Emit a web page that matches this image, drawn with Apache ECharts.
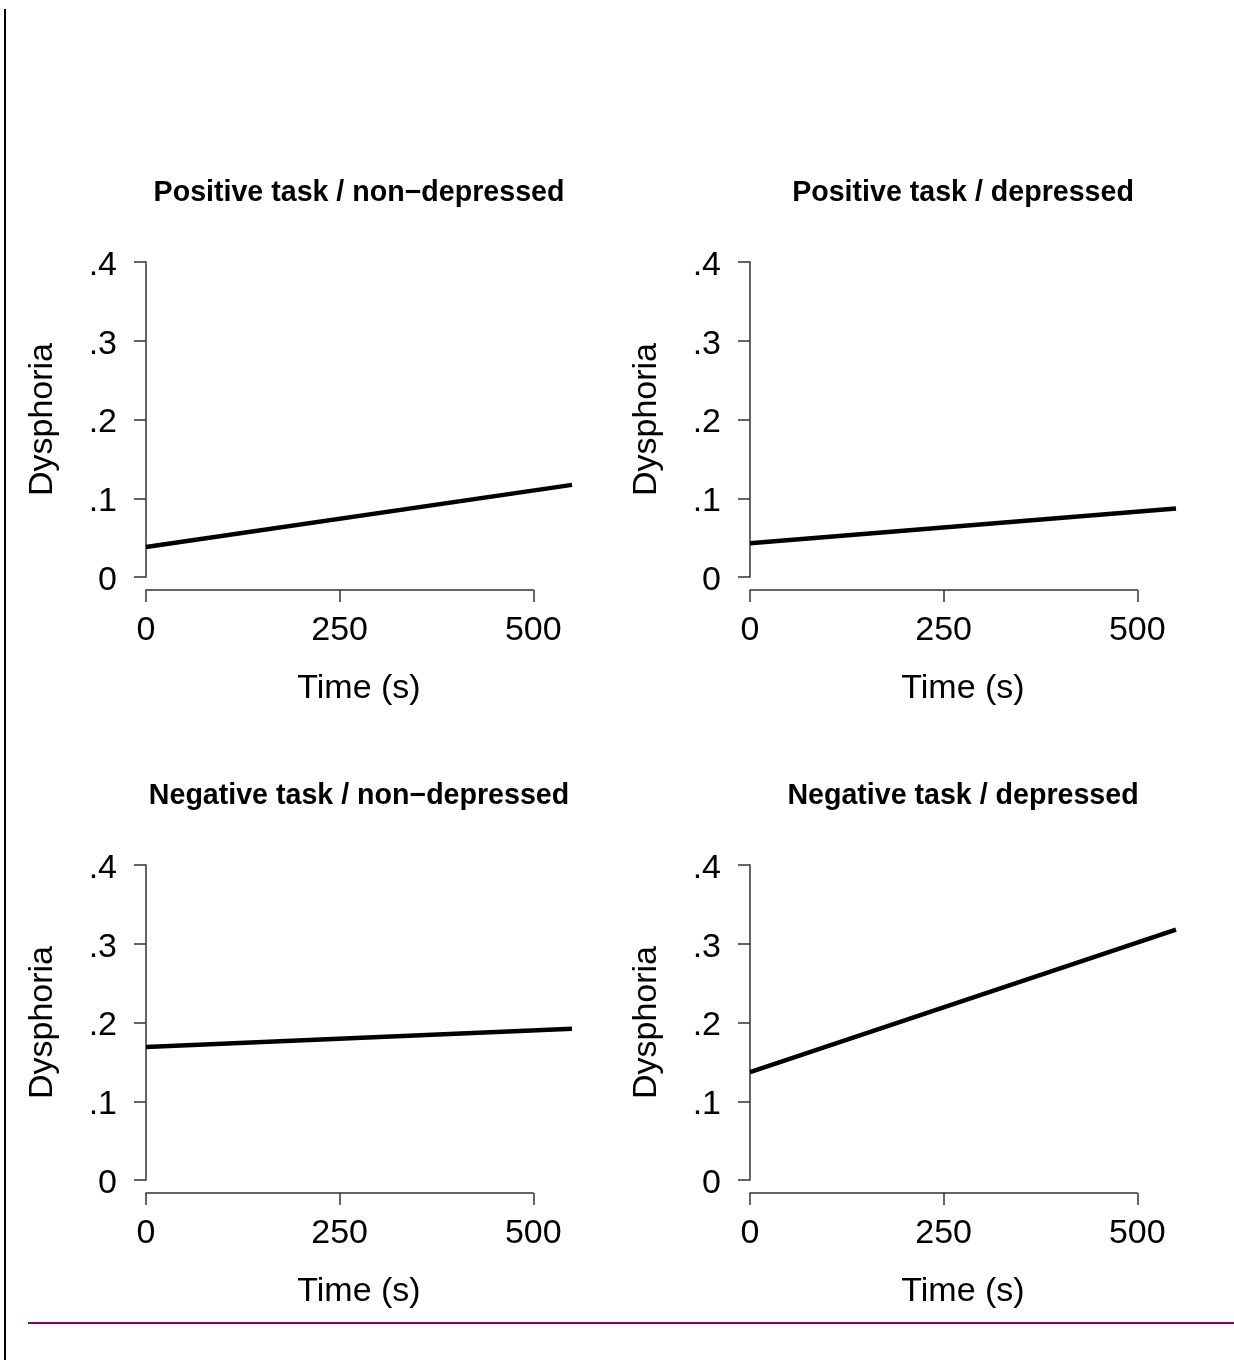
<!DOCTYPE html>
<html>
<head>
<meta charset="utf-8">
<script src="https://cdn.jsdelivr.net/npm/echarts@6/dist/echarts.min.js"></script>
<style>
html,body{margin:0;padding:0;background:#fff;}
#chart{width:1234px;height:1360px;}
</style>
</head>
<body>
<div id="chart"></div>
<script>
// ---- data ----
const panelTitles = [
  'Positive task / non\u2212depressed',
  'Positive task / depressed',
  'Negative task / non\u2212depressed',
  'Negative task / depressed'
];
const timeEnds = [0, 550];                  // fitted line spans 0..550 s
const startValues = [0.038, 0.043, 0.169, 0.137];
const endValues   = [0.117, 0.087, 0.192, 0.318];
const xTickValues = [0, 250, 500];
const yTickLabels = ['0', '.1', '.2', '.3', '.4'];
const xAxisTitle = 'Time (s)';
const yAxisTitle = 'Dysphoria';

// ---- layout ----
const FONT = '"Liberation Sans", Arial, Helvetica, sans-serif';
const panelLeft = [146, 750, 146, 750];
const panelTop = [262, 262, 865, 865];
const plotW = 426, plotH = 315;
const xMax = 550, axisMax = 500;
const axisW = plotW * axisMax / xMax;
const axisColor = '#333';
const FS = 34;

const grids = [], xAxes = [], yAxes = [], series = [], graphics = [];
for (let i = 0; i < 4; i++) {
  const L = panelLeft[i], T = panelTop[i];
  grids.push({left: L, top: T, width: plotW, height: plotH, outerBoundsMode: 'none', containLabel: false});
  grids.push({left: L, top: T, width: axisW, height: plotH, outerBoundsMode: 'none', containLabel: false});
  const g = 2 * i;
  // data x axis: invisible except for its title, centred on the full plot width
  xAxes.push({
    type: 'value', gridIndex: g, min: timeEnds[0], max: xMax, position: 'bottom', offset: 13,
    axisLine: {show: false, onZero: false}, axisTick: {show: false}, axisLabel: {show: false}, splitLine: {show: false},
    name: xAxisTitle, nameLocation: 'middle', nameGap: 82,
    nameTextStyle: {color: '#000', fontSize: FS, fontFamily: FONT}
  });
  // detached x axis drawn from 0 to 500
  xAxes.push({
    type: 'value', gridIndex: g + 1, min: 0, max: axisMax, interval: xTickValues[1] - xTickValues[0],
    position: 'bottom', offset: 13,
    axisLine: {show: true, onZero: false, lineStyle: {color: axisColor, width: 1.5}},
    axisTick: {show: true, length: 12, inside: false, lineStyle: {color: axisColor, width: 1.5}},
    splitLine: {show: false},
    axisLabel: {show: true, margin: 24, color: '#000', fontSize: FS, fontFamily: FONT,
      formatter: v => String(xTickValues.includes(v) ? v : '')}
  });
  yAxes.push({
    type: 'value', gridIndex: g, min: 0, max: 0.4, interval: 0.1,
    axisLine: {show: true, onZero: false, lineStyle: {color: axisColor, width: 1.5}},
    axisTick: {show: true, length: 12, inside: false, lineStyle: {color: axisColor, width: 1.5}},
    splitLine: {show: false},
    axisLabel: {show: true, margin: 29, color: '#000', fontSize: FS, fontFamily: FONT,
      formatter: v => '{t|' + yTickLabels[Math.round(v * 10)] + '}',
      rich: {t: {color: '#000', fontSize: FS, fontFamily: FONT, padding: [7, 0, 0, 0]}}},
    name: yAxisTitle, nameLocation: 'middle', nameGap: 86, nameRotate: 90,
    nameTextStyle: {color: '#000', fontSize: FS, fontFamily: FONT}
  });
  yAxes.push({type: 'value', gridIndex: g + 1, min: 0, max: 1, show: false});
  series.push({
    type: 'line', xAxisIndex: 2 * i, yAxisIndex: 2 * i,
    data: [[timeEnds[0], startValues[i]], [timeEnds[1], endValues[i]]],
    showSymbol: false, symbol: 'none', silent: true, animation: false,
    lineStyle: {color: '#000', width: 4.5}
  });
  graphics.push({
    type: 'text', x: L + plotW / 2, y: T - 69,
    style: {text: panelTitles[i], fill: '#000', font: 'bold 28.6px ' + FONT,
      textAlign: 'center', textVerticalAlign: 'middle', align: 'center', verticalAlign: 'middle'}
  });
}
// page decorations
graphics.push({type: 'line', shape: {x1: 5, y1: 9, x2: 5, y2: 1360}, style: {stroke: '#000', lineWidth: 2}});
graphics.push({type: 'line', shape: {x1: 28, y1: 1323, x2: 1234, y2: 1323}, style: {stroke: '#800080', lineWidth: 2}});

const chart = echarts.init(document.getElementById('chart'), null, {renderer: 'canvas'});
chart.setOption({
  backgroundColor: '#fff',
  animation: false,
  grid: grids, xAxis: xAxes, yAxis: yAxes, series: series,
  graphic: graphics
});
</script>
</body>
</html>
